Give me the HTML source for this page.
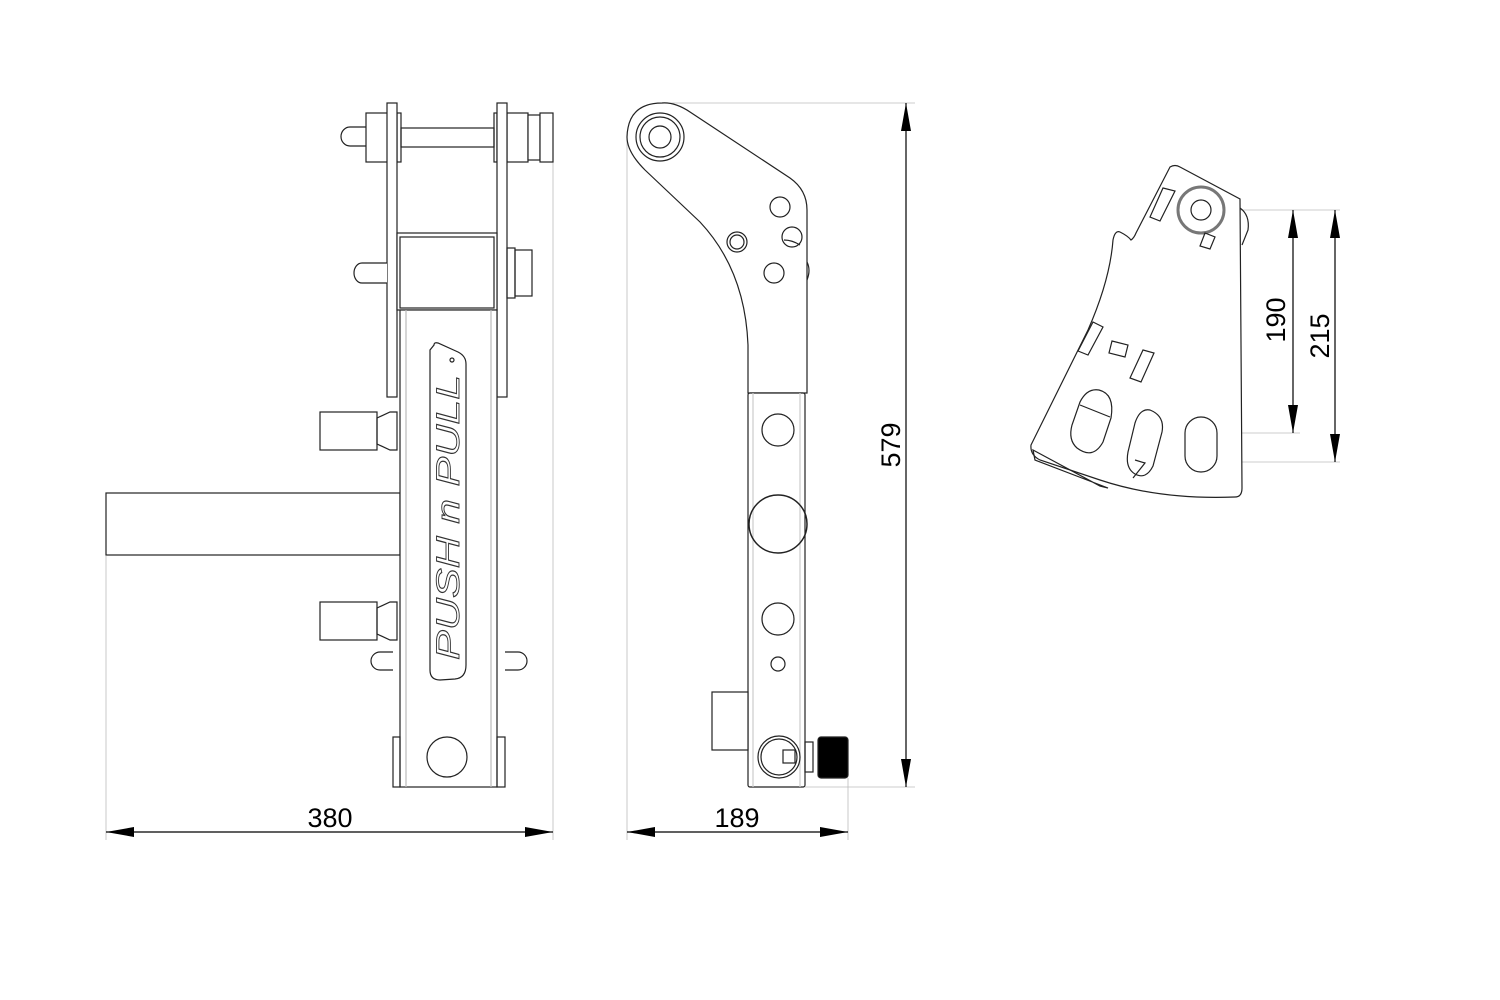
<!DOCTYPE html>
<html><head><meta charset="utf-8"><style>
html,body{margin:0;padding:0;background:#fff;}
svg{display:block}
text{font-family:"Liberation Sans",sans-serif;fill:#000}
</style></head><body>
<svg width="1500" height="1000" viewBox="0 0 1500 1000" xmlns="http://www.w3.org/2000/svg">
<g fill="none" stroke="#222" stroke-width="1.2">
<line x1="106" y1="556" x2="106" y2="840" stroke="#bbb" stroke-width="0.8"/>
<line x1="553" y1="115" x2="553" y2="840" stroke="#bbb" stroke-width="0.8"/>
<rect x="106" y="493" width="294" height="62" fill="#fff"/>
<path d="M366,127 H350 A9,9.5 0 0 0 350,146 H366" fill="#fff"/>
<rect x="366" y="113" width="22" height="49" fill="#fff"/>
<rect x="401" y="128" width="93" height="19" fill="#fff"/>
<rect x="397" y="113" width="4" height="49"/>
<rect x="494" y="113" width="3" height="49"/>
<rect x="507" y="113" width="21" height="49" fill="#fff"/>
<rect x="528" y="115" width="12" height="45" fill="#fff"/>
<rect x="540" y="113" width="13" height="49" fill="#fff"/>
<rect x="387" y="103" width="10" height="294" fill="#fff"/>
<rect x="497" y="103" width="10" height="294" fill="#fff"/>
<rect x="397" y="233" width="100" height="77" fill="#fff"/>
<rect x="400" y="237" width="94" height="71"/>
<path d="M387,263 H362 A8,10 0 0 0 362,283 H387" fill="#fff"/>
<rect x="507" y="248" width="8" height="50"/>
<rect x="515" y="250" width="17" height="46"/>
<rect x="400" y="310" width="97" height="477" fill="#fff"/>
<line x1="406" y1="310" x2="406" y2="787" stroke="#bbb"/>
<line x1="491" y1="310" x2="491" y2="787" stroke="#bbb"/>
<rect x="393" y="737" width="7" height="50"/>
<rect x="497" y="737" width="8" height="50"/>
<rect x="320" y="412" width="57" height="38" fill="#fff"/>
<path d="M377,418 L390,412 H397 V450 H390 L377,444Z"/>
<rect x="320" y="602" width="57" height="38" fill="#fff"/>
<path d="M377,608 L390,602 H397 V640 H390 L377,634Z"/>
<path d="M393,652 H380 A9,9 0 0 0 380,670 H393"/>
<path d="M505,652 H518 A9,9 0 0 1 518,670 H505"/>
<path d="M434,345 Q434,342 438,343 L458,352 Q466,356 466,364 L466,665 Q466,678 455,679 L440,680 Q430,680 430,670 L430,350Z"/>
<circle cx="452" cy="360" r="2"/>
<text x="0" y="0" transform="translate(459,660) rotate(-90)" font-size="32" font-style="italic" textLength="285" lengthAdjust="spacingAndGlyphs" style="fill:none;stroke:#333;stroke-width:0.9">PUSH n PULL</text>
<circle cx="447" cy="757" r="20"/>
<line x1="106" y1="832" x2="553" y2="832" stroke="#000"/>
<path d="M106,832 L134,827 L134,837Z M553,832 L525,827 L525,837Z" fill="#000" stroke="none"/>

<line x1="627" y1="135" x2="627" y2="840" stroke="#bbb" stroke-width="0.8"/>
<line x1="848" y1="778" x2="848" y2="840" stroke="#bbb" stroke-width="0.8"/>
<line x1="662" y1="103" x2="915" y2="103" stroke="#bbb" stroke-width="0.8"/>
<line x1="805" y1="787" x2="915" y2="787" stroke="#bbb" stroke-width="0.8"/>
<path d="M662,103 Q675,102 690,112 L790,178 Q807,190 807,210 L807,393 L748,393 L748,345 Q745,270 700,222 L645,170 Q627,152 627,137 Q628,103 662,103Z" fill="#fff"/>
<circle cx="660" cy="137" r="24"/><circle cx="660" cy="137" r="20"/><circle cx="660" cy="137" r="11"/>
<circle cx="780" cy="207" r="10"/><circle cx="737" cy="242" r="10"/><circle cx="737" cy="242" r="7"/>
<circle cx="792" cy="237" r="10"/><path d="M784,240 Q792,240 800,245"/>
<circle cx="774" cy="273" r="10"/>
<path d="M807,262 Q811,270 807,280"/>
<rect x="748" y="393" width="57" height="394" fill="#fff" rx="2"/>
<line x1="753" y1="393" x2="753" y2="787" stroke="#ccc"/>
<line x1="800" y1="393" x2="800" y2="787" stroke="#ccc"/>
<circle cx="778" cy="430" r="16"/>
<circle cx="778" cy="524" r="29" stroke-width="1.5"/>
<circle cx="778" cy="619" r="16"/>
<circle cx="778" cy="664" r="7"/>
<rect x="712" y="692" width="36" height="58" fill="#fff"/>
<circle cx="779" cy="757" r="21"/><circle cx="779" cy="757" r="18"/>
<rect x="783" y="750" width="12" height="13"/>
<rect x="805" y="742" width="8" height="30"/>
<rect x="818" y="737" width="30" height="41" rx="3" fill="#000"/>
<line x1="627" y1="832" x2="848" y2="832" stroke="#000"/>
<path d="M627,832 L655,827 L655,837Z M848,832 L820,827 L820,837Z" fill="#000" stroke="none"/>
<line x1="906" y1="103" x2="906" y2="787" stroke="#000"/>
<path d="M906,103 L901,131 L911,131Z M906,787 L901,759 L911,759Z" fill="#000" stroke="none"/>

<line x1="1205" y1="210" x2="1340" y2="210" stroke="#bbb" stroke-width="0.8"/>
<line x1="1205" y1="433" x2="1300" y2="433" stroke="#bbb" stroke-width="0.8"/>
<line x1="1205" y1="462" x2="1340" y2="462" stroke="#bbb" stroke-width="0.8"/>
<path d="M1170,167 Q1175,164 1180,167 L1240,199 L1242,488 Q1242,497 1235,497 Q1160,500 1100,480 L1040,460 Q1030,455 1031,445 L1088,330 Q1110,280 1113,240 Q1115,230 1120,232 Q1128,236 1131,240 Q1134,238 1136,233 Z" fill="#fff"/>
<path d="M1240,208 Q1250,215 1248,230 L1242,245"/>
<circle cx="1201" cy="210" r="23" stroke="#777" stroke-width="3"/>
<circle cx="1201" cy="210" r="10"/>
<path d="M1163,188 L1175,191 L1160,221 L1150,217Z"/>
<path d="M1205,233 L1215,237 L1210,249 L1200,246Z"/>
<path d="M1093,322 L1103,327 L1088,355 L1078,351Z"/>
<path d="M1112,341 L1128,345 L1125,357 L1109,353Z"/>
<path d="M1143,350 L1154,353 L1141,382 L1130,378Z"/>
<path d="M1099,390 Q1115,394 1111,418 L1103,442 Q1093,460 1077,448 Q1068,440 1072,425 L1080,402 Q1087,388 1099,390Z"/>
<path d="M1080,405 L1110,417"/>
<path d="M1150,410 Q1165,416 1162,432 L1153,466 Q1146,480 1135,474 Q1125,468 1128,452 L1135,423 Q1140,408 1150,410Z"/>
<path d="M1135,460 L1145,463 L1133,478"/>
<rect x="1185" y="417" width="32" height="55" rx="16"/>
<path d="M1033,450 L1100,486 L1108,488 L1035,460Z"/>
<line x1="1293" y1="210" x2="1293" y2="433" stroke="#000"/>
<path d="M1293,210 L1288,238 L1298,238Z M1293,433 L1288,405 L1298,405Z" fill="#000" stroke="none"/>
<line x1="1335" y1="210" x2="1335" y2="462" stroke="#000"/>
<path d="M1335,210 L1330,238 L1340,238Z M1335,462 L1330,434 L1340,434Z" fill="#000" stroke="none"/>
</g>
<text x="330" y="827" font-size="27" text-anchor="middle">380</text>
<text x="737" y="827" font-size="27" text-anchor="middle">189</text>
<text transform="translate(900,445) rotate(-90)" font-size="27" text-anchor="middle">579</text>
<text transform="translate(1285,320) rotate(-90)" font-size="27" text-anchor="middle">190</text>
<text transform="translate(1329,336) rotate(-90)" font-size="27" text-anchor="middle">215</text>
</svg>
</body></html>
